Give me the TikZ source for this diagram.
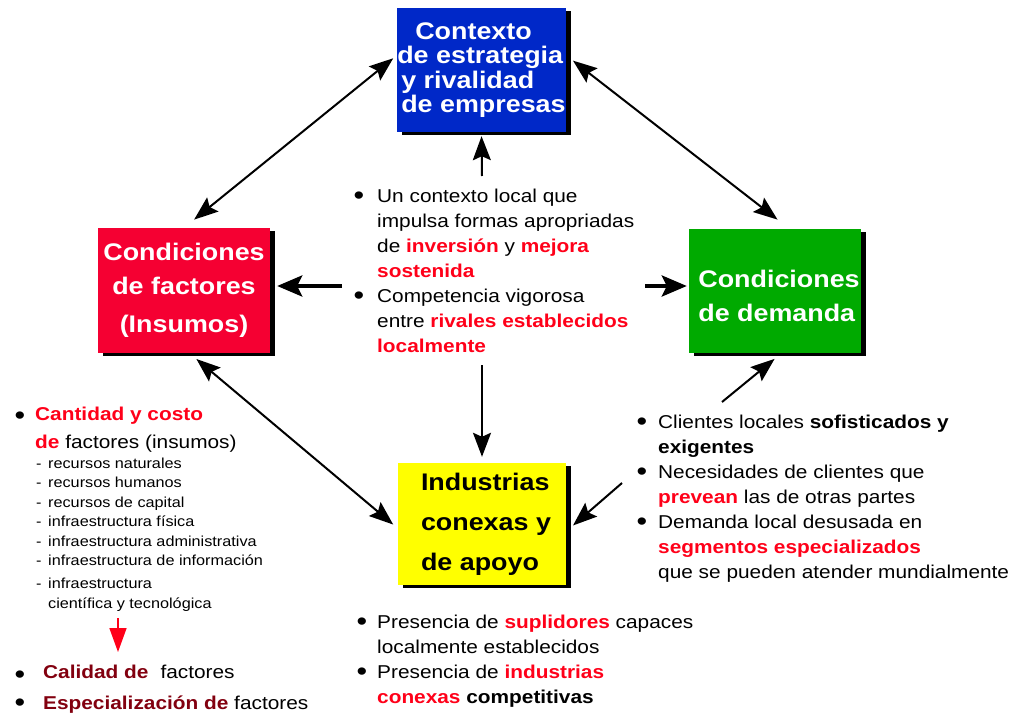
\documentclass[tikz,border=0pt]{standalone}
\usepackage{fontspec}
\setmainfont[FakeStretch=1.12]{Liberation Sans}
\usepackage{xcolor}
\usetikzlibrary{positioning, arrows.meta, shadows}

\definecolor{boxblue}{RGB}{0,40,200}
\definecolor{boxred}{RGB}{245,0,50}
\definecolor{boxgreen}{RGB}{0,170,0}
\definecolor{boxyellow}{RGB}{255,255,0}
\definecolor{hired}{RGB}{255,0,25}
\definecolor{darkred}{RGB}{130,0,15}

\newcommand{\hi}[1]{\textbf{\color{hired}#1}}
\newcommand{\bigdot}{\raisebox{-2pt}{\scalebox{1.45}{\textbullet}}}
\newcommand{\bul}[1][21pt]{\makebox[#1][l]{\bigdot}}

\tikzset{
  box/.style={rectangle, inner sep=0pt, minimum height=124pt, text=white,
    font=\bfseries\fontsize{24}{24.5}\selectfont,
    drop shadow={shadow xshift=5pt, shadow yshift=-3pt, fill=black, opacity=1}},
  txt/.style={anchor=base west, align=left, inner sep=0pt,
    font=\fontsize{18.6}{25}\selectfont},
  small/.style={txt, font=\fontsize{14.5}{19.5}\selectfont},
  link/.style={{Stealth[length=24pt,width=18pt,inset=4pt]}-{Stealth[length=24pt,width=18pt,inset=4pt]}, line width=2pt},
  one/.style={-{Stealth[length=24pt,width=18pt,inset=4pt]}, line width=2pt},
  fat/.style={-{Stealth[length=25pt,width=21pt,inset=5pt]}, line width=4pt}
}

\begin{document}
\begin{tikzpicture}[x=1pt, y=-1pt]
        \useasboundingbox (0,0) rectangle (1026,717);
        % the four boxes
        \node (ctx) [box, fill=boxblue, minimum width=167pt, align=left] at (481.5,70)
          {\hspace*{18pt}Contexto\\de estrategia\\\hspace*{4pt}y rivalidad\\\hspace*{4pt}de empresas};
        \node (fac) [box, fill=boxred, minimum width=172pt, minimum height=125pt, align=center] at (184,290.5)
          {Condiciones\\[9.5pt]de factores\\[13.5pt](Insumos)};
        \node (dem) [box, fill=boxgreen, minimum width=172pt, align=left] at (775,291)
          {\rule{0pt}{28pt}\hspace*{8pt}Condiciones\\[9.5pt]\hspace*{8pt}de demanda};
        \node (ind) [box, fill=boxyellow, text=black, minimum width=168pt, minimum height=122pt, align=left] at (482,524)
          {\hspace*{8pt}Industrias\\[15.5pt]\hspace*{8pt}conexas y\\[15.5pt]\hspace*{8pt}de apoyo};
        % text blocks (placed at the baseline of their last line)
        \node (ctxtxt) [txt] at (353.4,352)
          {\bul[23.6pt]Un contexto local que\\
           \hspace*{23.6pt}impulsa formas apropriadas\\
           \hspace*{23.6pt}de \hi{inversión} y \hi{mejora}\\
           \hspace*{23.6pt}\hi{sostenida}\\
           \bul[23.6pt]Competencia vigorosa\\
           \hspace*{23.6pt}entre \hi{rivales establecidos}\\
           \hspace*{23.6pt}\hi{localmente}};
        \node (demtxt) [txt] at (636.4,578)
          {\bul[21.6pt]Clientes locales \textbf{sofisticados y}\\
           \hspace*{21.6pt}\textbf{exigentes}\\
           \bul[21.6pt]Necesidades de clientes que\\
           \hspace*{21.6pt}\hi{prevean} las de otras partes\\
           \bul[21.6pt]Demanda local desusada en\\
           \hspace*{21.6pt}\hi{segmentos especializados}\\
           \hspace*{21.6pt}que se pueden atender mundialmente};
        \node (indtxt) [txt] at (356.4,703)
          {\bul[20.6pt]Presencia de \hi{suplidores} capaces\\
           \hspace*{20.6pt}localmente establecidos\\
           \bul[20.6pt]Presencia de \hi{industrias}\\
           \hspace*{20.6pt}\hi{conexas} \textbf{competitivas}};
        \node (factxt) [txt, font=\fontsize{18.6}{28}\selectfont] at (14.4,448)
          {\makebox[20.6pt][l]{\raisebox{-2pt}{\bigdot}}\hi{Cantidad y costo}\\
           \hspace*{20.6pt}\hi{de} factores (insumos)};
        \node (faclist) [small] at (36,608)
          {\makebox[12pt][l]{-}recursos naturales\\
           \makebox[12pt][l]{-}recursos humanos\\
           \makebox[12pt][l]{-}recursos de capital\\
           \makebox[12pt][l]{-}infraestructura física\\
           \makebox[12pt][l]{-}infraestructura administrativa\\
           \makebox[12pt][l]{-}infraestructura de información\\[3.5pt]
           \makebox[12pt][l]{-}infraestructura\\
           \hspace*{12pt}científica y tecnológica};
        \node (qual) [txt] at (14.4,678)
          {\makebox[28.6pt][l]{\raisebox{-3pt}{\bigdot}}\textbf{\color{darkred}Calidad de}\hspace{12pt}factores};
        \node (spec) [txt] at (14.4,709)
          {\bul[28.6pt]\textbf{\color{darkred}Especialización de} factores};
        % free ends
        \coordinate (ctxup) at (482,176);
        \coordinate (ctxdown) at (482,365);
        \coordinate (ctxleft) at (342,286);
        \coordinate (ctxright) at (645,286);
        \coordinate (demtail) at (722,402);
        \coordinate (indtail) at (622,483);
        \coordinate (qtop) at (118,618);
        \coordinate (qbot) at (118,652);
        % connectors
        \draw [link, shorten <=13pt, shorten >=5pt] (fac.north) -- (ctx.170);
        \draw [link, shorten <=9pt, shorten >=15pt] (ctx.10) -- (dem.77);
        \draw [link, shorten <=9pt, shorten >=6pt] (fac.-85) -- (ind.183);
        \draw [one, shorten >=9pt] (demtail) -- (dem.-84);
        \draw [one, shorten >=9pt] (indtail) -- (ind.-5);
        \draw [one, shorten >=4pt] (ctxup) -- (ctx.south);
        \draw [one, shorten >=6pt] (ctxdown) -- (ind.north);
        \draw [fat, shorten >=7pt] (ctxleft) -- (ctxleft -| fac.east);
        \draw [fat, shorten >=2pt] (ctxright) -- (ctxright -| dem.west);
        \draw [-{Triangle[length=24pt,width=17pt]}, hired, line width=1.5pt] (qtop) -- (qbot);
    \end{tikzpicture}
\end{document}
